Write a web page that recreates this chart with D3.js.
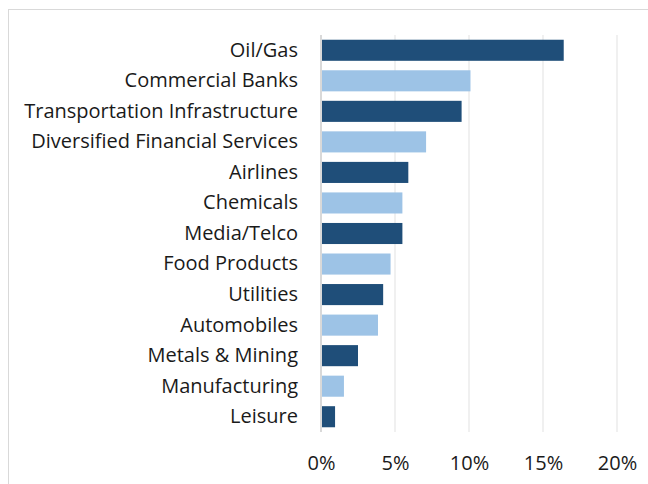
<!DOCTYPE html>
<html>
<head>
<meta charset="utf-8">
<script src="https://cdn.jsdelivr.net/npm/d3@7/dist/d3.min.js"></script>
<style>
  html, body { margin: 0; padding: 0; background: #fff; }
  svg { display: block; }
</style>
</head>
<body>
<svg id="chart" width="648" height="484"></svg>
<script>
// Sector shares, top to bottom
const sectors = [
  "Oil/Gas", "Commercial Banks", "Transportation Infrastructure",
  "Diversified Financial Services", "Airlines", "Chemicals", "Media/Telco",
  "Food Products", "Utilities", "Automobiles", "Metals & Mining",
  "Manufacturing", "Leisure"
];
const shares = [16.4, 10.1, 9.5, 7.1, 5.9, 5.5, 5.5, 4.7, 4.2, 3.85, 2.5, 1.55, 0.95];
const tickValues = [0, 5, 10, 15, 20];
const barColors = ["#1F4E79", "#9DC3E6"];

const FONT = "'Open Sans', sans-serif";
const svg = d3.select("#chart");
const W = 648, H = 484;
const margin = { left: 321, right: 31, top: 35, bottom: 52 };

// chart frame
svg.append("rect")
  .attr("x", 8.5).attr("y", 9.5)
  .attr("width", W + 10).attr("height", H + 10)
  .attr("fill", "none").attr("stroke", "#D9D9D9").attr("stroke-width", 1);

const x = d3.scaleLinear().domain([0, 20]).range([margin.left, W - margin.right]);
const y = d3.scaleBand().domain(sectors)
  .range([margin.top, H - margin.bottom]).paddingInner(0.31).paddingOuter(0.155);

// vertical gridlines
svg.append("g").selectAll("line")
  .data(tickValues.filter(d => d > 0))
  .join("line")
  .attr("x1", d => x(d)).attr("x2", d => x(d))
  .attr("y1", margin.top).attr("y2", H - margin.bottom)
  .attr("stroke", "#EBEBEB").attr("stroke-width", 1.5);

// bars
svg.append("g").selectAll("rect")
  .data(sectors)
  .join("rect")
  .attr("x", x(0))
  .attr("y", d => y(d))
  .attr("width", (d, i) => x(shares[i]) - x(0))
  .attr("height", y.bandwidth())
  .attr("fill", (d, i) => barColors[i % 2]);

// zero axis line
svg.append("line")
  .attr("x1", x(0)).attr("x2", x(0))
  .attr("y1", margin.top).attr("y2", H - margin.bottom)
  .attr("stroke", "#D9D9D9").attr("stroke-width", 2);

// category labels
const yAxis = d3.axisLeft(y).tickSize(0).tickPadding(23);
svg.append("g")
  .attr("transform", `translate(${x(0)},0)`)
  .call(yAxis)
  .call(g => g.select(".domain").remove())
  .selectAll("text")
  .attr("font-size", 20).attr("font-family", FONT).attr("fill", "#1a1a1a");

// percent axis labels
const xAxis = d3.axisBottom(x).tickValues(tickValues).tickFormat(d => d + "%").tickSize(0).tickPadding(0);
svg.append("g")
  .attr("transform", `translate(0,${H - margin.bottom + 24})`)
  .call(xAxis)
  .call(g => g.select(".domain").remove())
  .selectAll("text")
  .attr("font-size", 20).attr("font-family", FONT).attr("fill", "#1a1a1a");
</script>
</body>
</html>
